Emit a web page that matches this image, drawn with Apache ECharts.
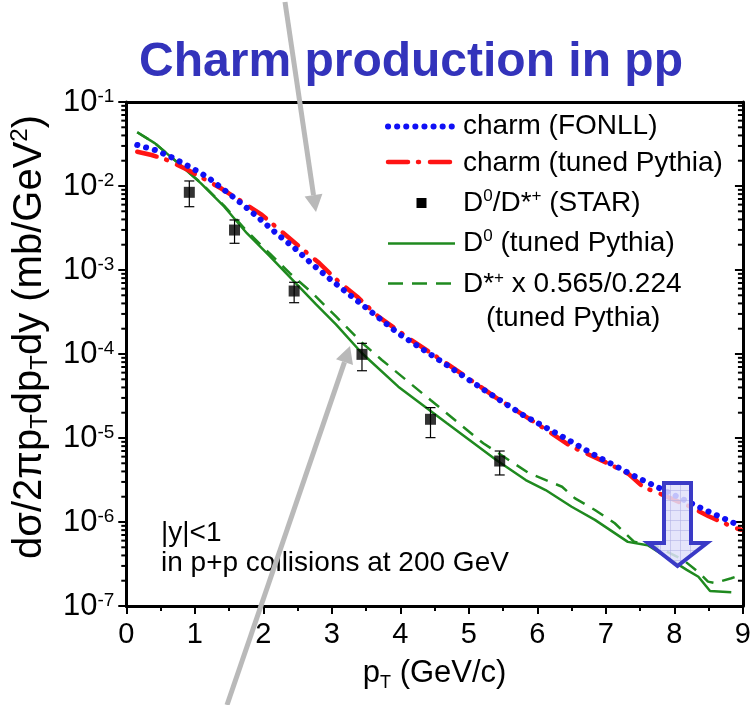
<!DOCTYPE html>
<html>
<head>
<meta charset="utf-8">
<title>Charm production in pp</title>
<script src="https://cdn.jsdelivr.net/npm/echarts@6/dist/echarts.min.js"></script>
<style>
  html, body { margin: 0; padding: 0; background: #fff; }
  #chart { width: 754px; height: 705px; }
</style>
</head>
<body>
<div id="chart"></div>
<script>
const FONT = '"Liberation Sans", Arial, Helvetica, sans-serif';

// charm (FONLL): [pT, dσ/2πpT dpT dy]
const fonllCharm = [
  [0.16, 0.0308], [0.42, 0.0268], [0.66, 0.0220], [0.92, 0.0170], [1.19, 0.0127],
  [1.43, 0.00896], [1.69, 0.00611], [1.94, 0.00412], [2.19, 0.00273], [2.46, 0.00181],
  [2.70, 0.00120], [2.96, 7.97e-4], [3.22, 5.37e-4], [3.48, 3.66e-4], [3.97, 1.76e-4],
  [4.64, 7.74e-5], [5.26, 3.56e-5], [5.79, 1.88e-5], [6.41, 9.91e-6], [6.79, 6.57e-6],
  [7.43, 3.47e-6], [7.97, 2.14e-6], [8.48, 1.35e-6], [8.87, 9.7e-7], [8.97, 9.0e-7]
];

// charm (tuned Pythia)
const pythiaCharm = [
  [0.16, 0.0256], [0.37, 0.0234], [0.57, 0.0208], [0.90, 0.0155], [1.12, 0.01235],
  [1.38, 0.0094], [1.69, 0.0065], [1.98, 0.00452], [2.24, 0.00299], [2.53, 0.00189],
  [2.82, 0.00120], [3.10, 7.26e-4], [3.37, 4.81e-4], [3.68, 2.78e-4], [4.16, 1.47e-4],
  [4.78, 6.76e-5], [5.39, 3.05e-5], [5.95, 1.56e-5], [6.50, 7.87e-6], [7.04, 4.94e-6],
  [7.33, 3.74e-6], [7.55, 2.58e-6], [7.75, 2.24e-6], [8.21, 1.55e-6], [8.50, 1.17e-6],
  [8.87, 8.6e-7], [8.97, 8.1e-7]
];

// D0 (tuned Pythia)
const pythiaD0 = [
  [0.16, 0.0436], [0.42, 0.0322], [0.76, 0.0186], [1.09, 0.01075], [1.43, 0.00567],
  [1.76, 0.00274], [2.10, 0.00144], [2.43, 7.6e-4], [2.77, 3.9e-4], [3.06, 2.25e-4],
  [3.44, 1.02e-4], [3.97, 4.08e-5], [4.68, 1.5e-5], [5.40, 5.47e-6], [5.83, 3.16e-6],
  [6.12, 2.4e-6], [6.50, 1.52e-6], [6.84, 1.06e-6], [7.32, 5.8e-7], [7.61, 5.3e-7],
  [7.99, 3.37e-7], [8.18, 2.69e-7], [8.35, 2.23e-7], [8.52, 1.51e-7], [8.83, 1.46e-7]
];

// D*+ x 0.565/0.224 (tuned Pythia)
const pythiaDstarScaled = [
  [0.16, 0.0436], [0.42, 0.0322], [0.76, 0.0187], [1.09, 0.0109], [1.43, 0.0058],
  [1.76, 0.0029], [2.10, 0.00155], [2.39, 9.1e-4], [2.72, 5.28e-4], [3.06, 2.8e-4],
  [3.44, 1.36e-4], [3.73, 8.5e-5], [4.44, 2.83e-5], [5.21, 8.65e-6], [5.88, 3.8e-6],
  [6.36, 2.63e-6], [6.55, 1.91e-6], [6.84, 1.39e-6], [7.13, 9.66e-7], [7.41, 5.82e-7],
  [7.75, 5.08e-7], [8.13, 3.53e-7], [8.37, 2.45e-7], [8.49, 1.95e-7], [8.59, 1.88e-7],
  [8.83, 2.14e-7], [8.97, 2.34e-7]
];

// D0/D*+ (STAR) measurements with error bars
const starPt    = [0.92, 1.58, 2.45, 3.44, 4.44, 5.45];
const starValue = [0.00841, 0.00299, 5.62e-4, 9.9e-5, 1.67e-5, 5.32e-6];
const starLow   = [0.00567, 0.00208, 4.08e-4, 6.32e-5, 1.01e-5, 3.63e-6];
const starHigh  = [0.01148, 0.00394, 7.14e-4, 1.34e-4, 2.30e-5, 7.0e-6];

// axis ranges
const xMin = 0, xMax = 9, xStep = 1;
const yMin = 1e-7, yMax = 1e-1;
const yDecades = [-7, -6, -5, -4, -3, -2];
const yMinorMantissas = [2, 3, 4, 5, 6, 7, 8, 9];

// log minor tick values between the decades
const yMinorTicks = [];
yDecades.forEach(function (e) {
  yMinorMantissas.forEach(function (m) { yMinorTicks.push(m * Math.pow(10, e)); });
});

const BLUE = '#1010f5', RED = '#ff1414', GREEN = '#1f8a1f';

const chart = echarts.init(document.getElementById('chart'), null, { renderer: 'canvas' });

const labelRich = {
  b: { fontSize: 31, fontFamily: FONT, color: '#000', lineHeight: 30 },
  e: { fontSize: 19, fontFamily: FONT, color: '#000', lineHeight: 19, verticalAlign: 'top' }
};

// a faint grid pattern for the filled block arrow
function gridPattern() {
  const c = document.createElement('canvas');
  c.width = 10; c.height = 10;
  const g = c.getContext('2d');
  g.fillStyle = 'rgba(224,224,250,0.85)';
  g.fillRect(0, 0, 10, 10);
  g.strokeStyle = 'rgba(175,175,228,0.55)';
  g.lineWidth = 1;
  g.beginPath();
  g.moveTo(0, 0.5); g.lineTo(10, 0.5);
  g.moveTo(0.5, 0); g.lineTo(0.5, 10);
  g.stroke();
  return c;
}

// legend block drawn as graphic elements
const legendX1 = 388, legendX2 = 455, legendTextX = 463;
const legendText = {
  t: { fontSize: 28, fontFamily: FONT, color: '#000', lineHeight: 30 },
  s: { fontSize: 17, fontFamily: FONT, color: '#000', lineHeight: 17, verticalAlign: 'top' }
};
function legendLabel(x, y, text) {
  return {
    type: 'text', x: x, y: y, z: 50,
    style: { text: text, rich: legendText, fontSize: 28, fontFamily: FONT, fill: '#000',
             align: 'left', verticalAlign: 'middle' }
  };
}
function legendLine(y, color, width, dash, cap) {
  return {
    type: 'line', z: 50,
    shape: { x1: legendX1, y1: y, x2: legendX2, y2: y },
    style: { stroke: color, lineWidth: width, lineDash: dash, lineCap: cap || 'butt' }
  };
}

function arrow(x0, y0, x1, y1, headLen, headHalf, color, width) {
  const dx = x1 - x0, dy = y1 - y0, len = Math.sqrt(dx * dx + dy * dy);
  const ux = dx / len, uy = dy / len;
  const bx = x1 - ux * headLen, by = y1 - uy * headLen;
  const px = -uy * headHalf, py = ux * headHalf;
  return [
    { type: 'line', z: 100, shape: { x1: x0, y1: y0, x2: bx, y2: by },
      style: { stroke: color, lineWidth: width } },
    { type: 'polygon', z: 100, shape: { points: [[x1, y1], [bx + px, by + py], [bx - px, by - py]] },
      style: { fill: color } }
  ];
}

const option = {
  backgroundColor: '#fff',
  animation: false,
  grid: { left: 124, right: 5, top: 102, bottom: 99, containLabel: false },
  xAxis: [
    {
      type: 'value', min: xMin, max: xMax, interval: xStep, position: 'bottom',
      name: '{t|p}{sub|T}{t| (GeV/c)}', nameLocation: 'middle', nameGap: 48,
      nameTextStyle: {
        fontSize: 31, fontFamily: FONT, color: '#000',
        rich: {
          t: { fontSize: 31, fontFamily: FONT, color: '#000', lineHeight: 38 },
          sub: { fontSize: 18, fontFamily: FONT, color: '#000', lineHeight: 18, verticalAlign: 'bottom' }
        }
      },
      axisLine: { show: true, onZero: false, lineStyle: { color: '#000', width: 3 } },
      axisTick: { show: true, inside: false, length: 8, lineStyle: { color: '#000', width: 2 } },
      minorTick: { show: true, splitNumber: 2, length: 5, lineStyle: { color: '#000', width: 2 } },
      axisLabel: { fontSize: 29, fontFamily: FONT, color: '#000', margin: 14 },
      splitLine: { show: false }
    },
    {
      type: 'value', min: xMin, max: xMax, interval: xStep, position: 'top',
      axisLine: { show: true, onZero: false, lineStyle: { color: '#000', width: 3 } },
      axisTick: { show: false }, axisLabel: { show: false }, splitLine: { show: false }
    }
  ],
  yAxis: [
    {
      type: 'log', logBase: 10, min: yMin, max: yMax, position: 'left',
      name: '{t|dσ/2πp}{sub|T}{t|dp}{sub|T}{t|dy (mb/GeV}{sup|2}{t|)}',
      nameLocation: 'middle', nameRotate: 90, nameGap: 69,
      nameTextStyle: {
        fontSize: 40, fontFamily: FONT, color: '#000',
        padding: [0, 0, 0, 34],
        rich: {
          t: { fontSize: 40, fontFamily: FONT, color: '#000', lineHeight: 44 },
          sub: { fontSize: 24, fontFamily: FONT, color: '#000', lineHeight: 24, verticalAlign: 'bottom' },
          sup: { fontSize: 24, fontFamily: FONT, color: '#000', lineHeight: 24, verticalAlign: 'top' }
        }
      },
      axisLine: { show: true, onZero: false, lineStyle: { color: '#000', width: 3 } },
      axisTick: { show: true, inside: false, length: 8, lineStyle: { color: '#000', width: 2 } },
      minorTick: { show: false },
      axisLabel: {
        margin: 12, color: '#000',
        formatter: function (v) {
          const e = Math.round(Math.log10(v));
          return '{b|10}{e|' + e + '}';
        },
        rich: labelRich
      },
      splitLine: { show: false }
    },
    {
      type: 'log', logBase: 10, min: yMin, max: yMax, position: 'right',
      axisLine: { show: true, onZero: false, lineStyle: { color: '#000', width: 3 } },
      axisTick: { show: true, inside: true, length: 8, lineStyle: { color: '#000', width: 2 } },
      minorTick: { show: false },
      axisLabel: { show: false }, splitLine: { show: false }
    }
  ],
  series: [
    {
      // log minor ticks on the left (outward) and right (inward) frame
      type: 'custom', xAxisIndex: 0, yAxisIndex: 0, silent: true, clip: false, z: 6,
      data: yMinorTicks.map(function (v) { return [xMin, v]; }),
      encode: { x: 0, y: 1 },
      renderItem: function (params, api) {
        const v = api.value(1);
        const l = api.coord([xMin, v]);
        const r = api.coord([xMax, v]);
        return {
          type: 'group',
          children: [
            { type: 'line', shape: { x1: l[0] - 5, y1: l[1], x2: l[0], y2: l[1] },
              style: { stroke: '#000', lineWidth: 2 } },
            { type: 'line', shape: { x1: r[0] - 5, y1: r[1], x2: r[0], y2: r[1] },
              style: { stroke: '#000', lineWidth: 2 } }
          ]
        };
      }
    },
    {
      name: 'D0 (tuned Pythia)', type: 'line', data: pythiaD0, showSymbol: false, z: 3,
      lineStyle: { color: GREEN, width: 2.5, type: 'solid' }
    },
    {
      name: 'D*+ x 0.565/0.224 (tuned Pythia)', type: 'line', data: pythiaDstarScaled, showSymbol: false, z: 3,
      lineStyle: { color: GREEN, width: 2.5, type: [13, 9] }
    },
    {
      name: 'charm (tuned Pythia)', type: 'line', data: pythiaCharm, showSymbol: false, z: 4,
      lineStyle: { color: RED, width: 4.5, type: [20, 10, 1, 11], cap: 'round' }
    },
    {
      name: 'charm (FONLL)', type: 'line', data: fonllCharm, showSymbol: false, z: 5,
      lineStyle: { color: BLUE, width: 6, type: [0.1, 9], cap: 'round' }
    },
    {
      // STAR error bars
      type: 'custom', xAxisIndex: 0, yAxisIndex: 0, z: 7,
      data: starPt.map(function (x, i) { return [x, starLow[i], starHigh[i]]; }),
      encode: { x: 0, y: [1, 2] },
      renderItem: function (params, api) {
        const lo = api.coord([api.value(0), api.value(1)]);
        const hi = api.coord([api.value(0), api.value(2)]);
        const w = 5;
        const st = { stroke: '#000', lineWidth: 1.2 };
        return {
          type: 'group',
          children: [
            { type: 'line', shape: { x1: lo[0], y1: lo[1], x2: hi[0], y2: hi[1] }, style: st },
            { type: 'line', shape: { x1: lo[0] - w, y1: lo[1], x2: lo[0] + w, y2: lo[1] }, style: st },
            { type: 'line', shape: { x1: hi[0] - w, y1: hi[1], x2: hi[0] + w, y2: hi[1] }, style: st }
          ]
        };
      }
    },
    {
      name: 'D0/D*+ (STAR)', type: 'scatter', z: 8,
      data: starPt.map(function (x, i) { return [x, starValue[i]]; }),
      symbol: 'rect', symbolSize: 11,
      itemStyle: { color: '#000' }
    }
  ],
  graphic: [].concat(
    [
      {
        type: 'text', x: 411, y: 63, z: 40,
        style: { text: 'Charm production in pp', fontSize: 48, fontWeight: 'bold', fontFamily: FONT,
                 fill: '#3333bb', align: 'center', verticalAlign: 'middle' }
      },
      legendLine(126.5, BLUE, 6, [0.1, 9], 'round'),
      legendLabel(legendTextX, 126.5, 'charm (FONLL)'),
      legendLine(162, RED, 4.5, [20, 10, 1, 11], 'round'),
      legendLabel(legendTextX, 163, 'charm (tuned Pythia)'),
      { type: 'rect', z: 50, shape: { x: 416.5, y: 198, width: 10, height: 10 }, style: { fill: '#000' } },
      legendLabel(legendTextX, 203, '{t|D}{s|0}{t|/D*}{s|+}{t| (STAR)}'),
      legendLine(243.5, GREEN, 2.5, null, 'butt'),
      legendLabel(legendTextX, 243, '{t|D}{s|0}{t| (tuned Pythia)}'),
      legendLine(283.5, GREEN, 2.5, [15, 9], 'butt'),
      legendLabel(legendTextX, 284.5, '{t|D*}{s|+}{t| x 0.565/0.224}'),
      legendLabel(486, 318, '(tuned Pythia)'),
      {
        type: 'text', x: 161, y: 533, z: 40,
        style: { text: '|y|<1', fontSize: 28, fontFamily: FONT, fill: '#000',
                 align: 'left', verticalAlign: 'middle' }
      },
      {
        type: 'text', x: 161, y: 563, z: 40,
        style: { text: 'in p+p collisions at 200 GeV', fontSize: 28, fontFamily: FONT, fill: '#000',
                 align: 'left', verticalAlign: 'middle' }
      },
      {
        // block arrow pointing down near pT = 8
        type: 'polygon', z: 90,
        shape: { points: [[664, 483], [691, 483], [691, 543], [707, 543], [677.5, 566], [648, 543], [664, 543]] },
        style: { fill: { image: gridPattern(), repeat: 'repeat' }, stroke: '#3a3ac6', lineWidth: 4, lineJoin: 'miter' }
      }
    ],
    arrow(285, 2, 316, 212, 17, 9, '#b9b9b9', 5),
    arrow(227, 705, 350, 346, 17, 9, '#b9b9b9', 5)
  )
};

chart.setOption(option);
</script>
</body>
</html>
